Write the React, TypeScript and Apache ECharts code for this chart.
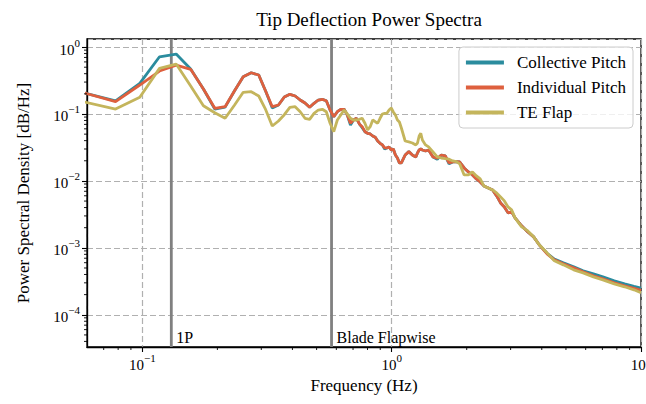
import React, { useEffect, useRef } from 'react';
import * as echarts from 'echarts';

const freqs = [
  0.0586, 0.0781, 0.0977, 0.1172, 0.1367, 0.1563, 0.1758, 0.1953, 0.2148, 0.2344,
  0.2539, 0.2734, 0.2930, 0.3125, 0.3320, 0.3516, 0.3711, 0.3906, 0.4102, 0.4297,
  0.4492, 0.4688, 0.4883, 0.5078, 0.5273, 0.5469, 0.5664, 0.5859, 0.6055, 0.6250,
  0.6445, 0.6641, 0.6836, 0.7031, 0.7227, 0.7422, 0.7617, 0.7813, 0.8008, 0.8203,
  0.8398, 0.8594, 0.8789, 0.8984, 0.9180, 0.9375, 0.9570, 0.9766, 0.9961, 1.0156,
  1.0352, 1.0547, 1.0742, 1.0938,
  1.1328, 1.1719, 1.2109, 1.2500, 1.2695, 1.2891, 1.3086, 1.3281, 1.3672, 1.4063,
  1.4648, 1.5234, 1.5820, 1.6406, 1.6992, 1.7578, 1.8164, 1.8750,
  1.9531, 2.0313, 2.1094, 2.1875, 2.2656, 2.3438,
  2.4414, 2.5391, 2.6367, 2.7344, 2.8320, 2.9297, 3.0273, 3.1250,
  3.3203, 3.5156, 3.7109, 3.9063,
  4.1992, 4.4922, 4.8828, 5.3711, 5.8594, 6.4453, 7.0313, 7.8125, 8.5938, 9.3750, 10.0,
];

const collective = [
  0.206, 0.157, 0.287, 0.7165, 0.786, 0.47, 0.236, 0.1187, 0.1266, 0.2228,
  0.3602, 0.4134, 0.3821, 0.2182, 0.1229, 0.1362, 0.1794, 0.1968, 0.1857, 0.1618,
  0.146, 0.1259, 0.1445, 0.1618, 0.1657, 0.158, 0.1147, 0.0911, 0.1082, 0.1175,
  0.1175, 0.0966, 0.0685, 0.0814, 0.0863, 0.0709, 0.0625, 0.0544, 0.0515, 0.0503,
  0.0469, 0.0449, 0.0395, 0.0365, 0.0345, 0.0300, 0.0311, 0.0322, 0.029, 0.030,
  0.0244, 0.022, 0.01857, 0.01857,
  0.0244, 0.0274, 0.0244, 0.0228, 0.0262, 0.029, 0.030, 0.029, 0.028, 0.029,
  0.0228, 0.0210, 0.0244, 0.0236, 0.0180, 0.0192, 0.0194, 0.0192,
  0.01563, 0.01362, 0.01229, 0.01071, 0.00966, 0.00842,
  0.00786, 0.00734, 0.00597, 0.00469, 0.00409, 0.00333, 0.00345, 0.0028,
  0.00213, 0.00173, 0.00146, 0.00111,
  0.00083, 0.00068, 0.000597, 0.00052, 0.000454, 0.000409, 0.000369, 0.000322, 0.00029, 0.000266, 0.00025,
];

const individual = [
  0.206, 0.1527, 0.271, 0.4385, 0.5385, 0.4648, 0.236, 0.1217, 0.1285, 0.2228,
  0.3602, 0.4134, 0.3821, 0.2182, 0.1285, 0.1362, 0.1794, 0.1968, 0.1857, 0.1618,
  0.146, 0.1259, 0.1445, 0.1618, 0.1657, 0.158, 0.1147, 0.0911, 0.1082, 0.1175,
  0.1175, 0.0966, 0.0727, 0.0814, 0.0863, 0.0709, 0.0646, 0.0544, 0.0515, 0.0503,
  0.0469, 0.0449, 0.0395, 0.0365, 0.0345, 0.0311, 0.0311, 0.0322, 0.029, 0.030,
  0.0244, 0.022, 0.01857, 0.01857,
  0.0244, 0.0274, 0.0244, 0.0228, 0.0262, 0.029, 0.030, 0.029, 0.028, 0.029,
  0.0228, 0.0218, 0.0244, 0.0236, 0.01857, 0.0192, 0.0194, 0.0192,
  0.01563, 0.01362, 0.01229, 0.01071, 0.00966, 0.00842,
  0.00786, 0.00734, 0.00597, 0.00469, 0.00409, 0.00333, 0.00345, 0.0028,
  0.00213, 0.00173, 0.00146, 0.00111,
  0.000814, 0.000662, 0.000577, 0.000503, 0.000438, 0.000382, 0.000345, 0.0003, 0.000271, 0.000249, 0.000231,
];

const teFlap = [
  0.151, 0.1187, 0.1776, 0.481, 0.5576, 0.2618, 0.133, 0.1046, 0.0863, 0.1362,
  0.2108, 0.2152, 0.1857, 0.1159, 0.0662, 0.0786, 0.0976, 0.1259, 0.1285, 0.1082,
  0.0863, 0.0833, 0.1024, 0.1147, 0.1175, 0.1082, 0.0727, 0.0544, 0.0814, 0.0966,
  0.1147, 0.1, 0.0863, 0.0814, 0.0814, 0.0833, 0.0863, 0.0727, 0.0577, 0.0646,
  0.0814, 0.0767, 0.0727, 0.0863, 0.1, 0.1024, 0.1024, 0.1147, 0.1229, 0.1071,
  0.0966, 0.0814, 0.076, 0.0618,
  0.0395, 0.0382, 0.0369, 0.0345, 0.0369, 0.0469, 0.0515, 0.0409, 0.0345, 0.0322,
  0.0271, 0.0228, 0.022, 0.0215, 0.0211, 0.0199, 0.0194, 0.01794,
  0.01229, 0.01229, 0.01362, 0.01188, 0.01071, 0.00842,
  0.00786, 0.00734, 0.00662, 0.00577, 0.00503, 0.00409, 0.00369, 0.0028,
  0.00206, 0.00179, 0.00146, 0.00111,
  0.000842, 0.00064, 0.000557, 0.000469, 0.000423, 0.000369, 0.000333, 0.00029, 0.000262, 0.000236, 0.000213,
];

const seriesNames = ['Collective Pitch', 'Individual Pitch', 'TE Flap'];
const seriesColors = ['#2b8c9e', '#de603e', '#c4b55c'];

const xMinorTicks = [0.07, 0.08, 0.09, 0.2, 0.3, 0.4, 0.5, 0.6, 0.7, 0.8, 0.9, 2, 3, 4, 5, 6, 7, 8, 9];
const yMinorTicks = [
  4e-5, 5e-5, 6e-5, 7e-5, 8e-5, 9e-5,
  2e-4, 3e-4, 4e-4, 5e-4, 6e-4, 7e-4, 8e-4, 9e-4,
  2e-3, 3e-3, 4e-3, 5e-3, 6e-3, 7e-3, 8e-3, 9e-3,
  2e-2, 3e-2, 4e-2, 5e-2, 6e-2, 7e-2, 8e-2, 9e-2,
  0.2, 0.3, 0.4, 0.5, 0.6, 0.7, 0.8, 0.9,
];

const markerFreqs = [0.1307, 0.574];
const markerLabels = ['1P', 'Blade Flapwise'];

const X_MIN = 0.06;
const X_MAX = 10;
const Y_MIN = 3.3e-5;
const Y_MAX = 1.32;

const FONT = '"Liberation Serif", "DejaVu Serif", serif';

function supLabel(v: number) {
  const e = Math.round(Math.log10(v));
  const s = e < 0 ? '\u2212' + Math.abs(e) : String(e);
  return `{b|10}{s|${s}}`;
}

const richLabel = {
  b: { fontFamily: FONT, fontSize: 15, color: '#000', lineHeight: 20, verticalAlign: 'bottom' },
  s: { fontFamily: FONT, fontSize: 11, color: '#000', lineHeight: 20, verticalAlign: 'top' },
};

export default function App() {
  const ref = useRef<HTMLDivElement>(null);

  useEffect(() => {
    if (!ref.current) return;
    const chart = echarts.init(ref.current, undefined, { renderer: 'svg' });
    const datasets = [collective, individual, teFlap];

    const lineSeries = datasets.map((vals, si) => ({
      name: seriesNames[si],
      type: 'line',
      showSymbol: false,
      symbol: 'none',
      z: 3,
      color: seriesColors[si],
      lineStyle: { width: 2.8, color: seriesColors[si] },
      data: freqs.map((f, i) => [f, vals[i]]),
    }));

    const option: any = {
      animation: false,
      title: {
        text: 'Tip Deflection Power Spectra',
        left: 364,
        top: 5,
        textAlign: 'center',
        textStyle: { fontFamily: FONT, fontSize: 19, fontWeight: 'normal', color: '#000' },
      },
      legend: {
        data: seriesNames,
        orient: 'vertical',
        right: 13,
        top: 47,
        icon: 'rect',
        itemWidth: 38,
        itemHeight: 4,
        itemGap: 6,
        padding: [6, 7, 6, 7],
        backgroundColor: 'rgba(255,255,255,0.8)',
        borderColor: '#cccccc',
        borderWidth: 1,
        borderRadius: 4,
        textStyle: { fontFamily: FONT, fontSize: 17, color: '#000', lineHeight: 19, padding: [0, 0, 0, 8] },
      },
      grid: {
        left: 87,
        right: 5,
        top: 39,
        bottom: 57,
        show: true,
        borderColor: '#000',
        borderWidth: 1.3,
        backgroundColor: 'transparent',
        containLabel: false,
        outerBoundsMode: 'none',
      },
      xAxis: {
        type: 'log',
        logBase: 10,
        min: X_MIN,
        max: X_MAX,
        splitNumber: 2,
        name: 'Frequency (Hz)',
        nameLocation: 'middle',
        nameGap: 28,
        nameTextStyle: { fontFamily: FONT, fontSize: 17, color: '#000' },
        axisLine: { show: true, lineStyle: { color: '#000', width: 1.3 } },
        axisTick: { show: true, inside: false, length: 5, lineStyle: { color: '#000', width: 1.1 } },
        axisLabel: {
          show: true,
          margin: 5,
          showMinLabel: false,
          hideOverlap: false,
          formatter: (v: number) => (v < 0.065 ? '' : supLabel(v)),
          rich: richLabel,
        },
        splitLine: { show: true, lineStyle: { color: '#b0b0b0', width: 1.2, type: [6, 3] } },
        minorTick: { show: false },
      },
      yAxis: {
        type: 'log',
        logBase: 10,
        min: Y_MIN,
        max: Y_MAX,
        splitNumber: 5,
        name: 'Power Spectral Density [dB/Hz]',
        nameLocation: 'middle',
        nameGap: 55,
        nameTextStyle: { fontFamily: FONT, fontSize: 17, color: '#000' },
        axisLine: { show: true, lineStyle: { color: '#000', width: 1.3 } },
        axisTick: { show: true, inside: false, length: 5, lineStyle: { color: '#000', width: 1.1 } },
        axisLabel: {
          show: true,
          margin: 7,
          showMinLabel: false,
          showMaxLabel: false,
          hideOverlap: false,
          formatter: (v: number) => {
            const e = Math.log10(v);
            if (Math.abs(e - Math.round(e)) > 0.01) return '';
            return supLabel(v);
          },
          rich: richLabel,
        },
        splitLine: { show: true, lineStyle: { color: '#b0b0b0', width: 1.2, type: [6, 3] } },
      },
      series: [
        {
          name: 'markers',
          type: 'custom',
          z: 2,
          clip: false,
          silent: true,
          encode: { x: 0, y: 1 },
          data: markerFreqs.map((f) => [f, 1]),
          renderItem: (params: any, api: any) => {
            const cs = params.coordSys;
            const x = api.coord([api.value(0), 1])[0];
            return {
              type: 'group',
              children: [
                {
                  type: 'line',
                  shape: { x1: x, y1: cs.y, x2: x, y2: cs.y + cs.height },
                  style: { stroke: '#808080', lineWidth: 2.8 },
                },
                {
                  type: 'text',
                  x: x + 5,
                  y: cs.y + cs.height - 2,
                  style: {
                    text: markerLabels[params.dataIndex],
                    fill: '#000',
                    font: `16px ${FONT}`,
                    textAlign: 'left',
                    textVerticalAlign: 'bottom',
                    align: 'left',
                    verticalAlign: 'bottom',
                  },
                },
              ],
            };
          },
        },
        {
          name: 'xMinor',
          type: 'custom',
          z: 4,
          clip: false,
          silent: true,
          encode: { x: 0, y: 1 },
          data: xMinorTicks.map((v) => [v, 1]),
          renderItem: (params: any, api: any) => {
            const cs = params.coordSys;
            const x = api.coord([api.value(0), 1])[0];
            const yb = cs.y + cs.height;
            return {
              type: 'line',
              shape: { x1: x, y1: yb, x2: x, y2: yb + 3 },
              style: { stroke: '#000', lineWidth: 0.9 },
            };
          },
        },
        {
          name: 'yMinor',
          type: 'custom',
          z: 4,
          clip: false,
          silent: true,
          encode: { x: 0, y: 1 },
          data: yMinorTicks.map((v) => [1, v]),
          renderItem: (params: any, api: any) => {
            const cs = params.coordSys;
            const y = api.coord([1, api.value(1)])[1];
            return {
              type: 'line',
              shape: { x1: cs.x - 3, y1: y, x2: cs.x, y2: y },
              style: { stroke: '#000', lineWidth: 0.9 },
            };
          },
        },
        ...lineSeries,
      ],
    };

    chart.setOption(option);
    return () => chart.dispose();
  }, []);

  return (
    <div
      ref={ref}
      style={{ position: 'fixed', left: 0, top: 0, width: 646, height: 404, background: '#fff' }}
    />
  );
}
